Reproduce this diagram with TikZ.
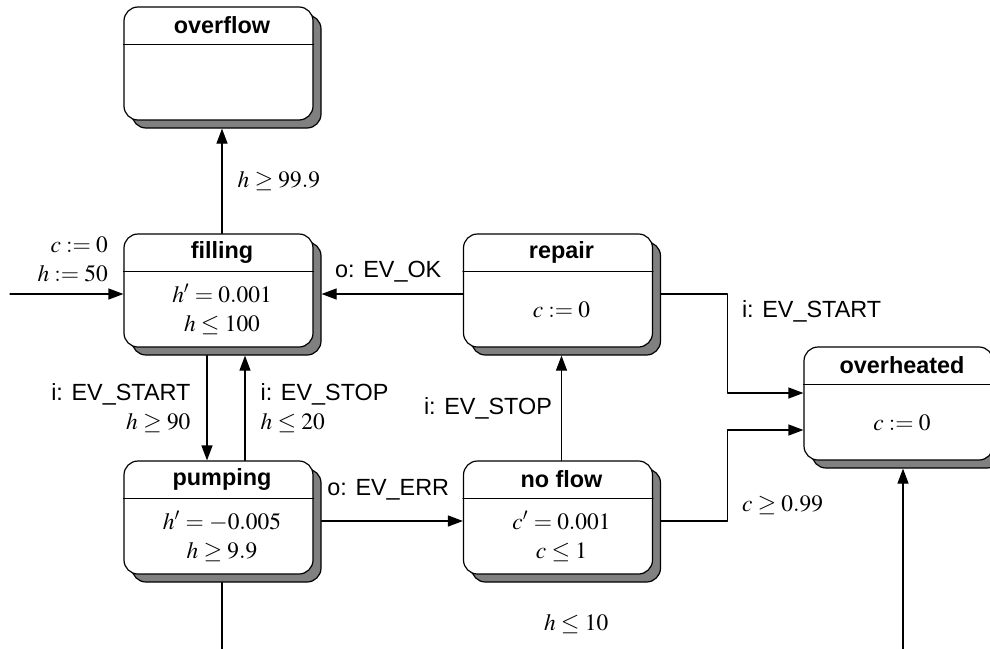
\documentclass[tikz,border=0pt]{standalone}
\usepackage{mathptmx}
\usepackage[no-math]{fontspec}
\setsansfont{Liberation Sans}
\DeclareSymbolFont{cmsymbols}{OMS}{cmsy}{m}{n}
\DeclareSymbolFont{cmrops}{OT1}{cmr}{m}{n}
\DeclareMathSymbol{\geq}{\mathrel}{cmsymbols}{"15}
\DeclareMathSymbol{\leq}{\mathrel}{cmsymbols}{"14}
\DeclareMathSymbol{-}{\mathbin}{cmsymbols}{"00}
\DeclareMathSymbol{=}{\mathrel}{cmrops}{"3D}
\DeclareMathSymbol{:}{\mathrel}{cmrops}{"3A}
\usetikzlibrary{arrows.meta,shadows}

% one location: frame, header rule, title, body
\newcommand{\locbox}[4]{%
	\node[loc] (#1) at (#2) {};
	\draw ([yshift=-19pt]#1.north west) -- ([yshift=-19pt]#1.north east);
	\node[loctitle] (#1-title) at ([xshift=1.75pt,yshift=-9.5pt]#1.north) {#3};
	\node[locbody] (#1-body) at ([xshift=1.75pt,yshift=-9.5pt]#1.center) {#4};
}

\begin{document}
\begin{tikzpicture}[x=0.5pt, y=-0.5pt, line width=0.6pt, line join=round, line cap=round,
	>={Triangle[length=7.5pt,width=5.5pt]}, font=\fontsize{11.7}{14.5}\selectfont,
	loc/.style={draw, rounded corners=7pt, minimum width=94.5pt, minimum height=56.5pt, inner sep=0pt, fill=white,
		drop shadow={shadow xshift=4pt, shadow yshift=-4pt, opacity=1, fill=gray, draw=black}},
	loctitle/.style={font=\sffamily\bfseries\fontsize{11.7}{14.5}\selectfont, inner sep=0pt},
	locbody/.style={align=center, inner sep=0pt},
	lbl/.style={font=\sffamily\fontsize{11.7}{14.5}\selectfont, inner sep=0pt}]
	\useasboundingbox (0,0) rectangle (990,648);
	\clip (0,0) rectangle (990,648);
	\locbox{overflow}{218.5,63.5}{overflow}{}
	\locbox{filling}{218.5,290.5}{filling}{$h' = 0.001$\\$h \leq 100$}
	\locbox{pumping}{218.5,517.5}{pumping}{$h' = -0.005$\\$h \geq 9.9$}
	\locbox{repair}{558,290.5}{repair}{$c := 0$}
	\locbox{noflow}{558,517.5}{no flow}{$c' = 0.001$\\$c \leq 1$}
	\locbox{overheated}{898.5,403.5}{overheated}{$c := 0$}
	\coordinate (init) at (10,294);
	\draw[->] (init) -- (init -| filling.west) node[lbl, midway, above=6pt, align=right, xshift=3pt] {$c := 0$\\$h := 50$};
	\draw[->] ([xshift=1.75pt]filling.north) -- ([xshift=1.75pt,yshift=-4pt]overflow.south) node[lbl, midway, right=7.5pt] {$h \geq 99.9$};
	\draw[->] ([xshift=-5.75pt,yshift=-4pt]filling.south) -- ([xshift=-5.75pt]pumping.north) node[lbl, midway, left=8pt, align=right] {i: EV\_START\\$h \geq 90$};
	\draw[->] ([xshift=13.25pt]pumping.north) -- ([xshift=13.25pt,yshift=-4pt]filling.south) node[lbl, midway, right=7.5pt, align=left] {i: EV\_STOP\\$h \leq 20$};
	\draw[->] ([xshift=4pt,yshift=-1.75pt]pumping.east) -- ([yshift=-1.75pt]noflow.west) node[lbl, midway, above=10pt, xshift=-2pt] {o: EV\_ERR};
	\draw[->] ([xshift=1.75pt]noflow.north) -- ([xshift=1.75pt,yshift=-4pt]repair.south) node[lbl, midway, left=4.5pt] {i: EV\_STOP};
	\draw[->] ([yshift=-1.75pt]repair.west) -- ([xshift=4pt,yshift=-1.75pt]filling.east) node[lbl, midway, above=5.5pt, xshift=-2pt] {o: EV\_OK};
	\draw[->] ([xshift=4pt,yshift=-1.75pt]repair.east) -| ([xshift=-38pt,yshift=5.25pt]overheated.west) node[lbl, pos=0.5, anchor=north west, xshift=7pt, yshift=-3pt] {i: EV\_START} -- ([yshift=5.25pt]overheated.west);
	\draw[->] ([xshift=4pt,yshift=-1.75pt]noflow.east) -| ([xshift=-38pt,yshift=-13.25pt]overheated.west) node[lbl, pos=0.5, anchor=south west, xshift=7pt, yshift=3pt] {$c \geq 0.99$} -- ([yshift=-13.25pt]overheated.west);
	\draw[->] ([xshift=1.75pt,yshift=-4pt]pumping.south) -- ++(0,74) -| ([xshift=2.25pt,yshift=-4pt]overheated.south) node[lbl, pos=0.26, above=11pt] {$h \leq 10$};
\end{tikzpicture}
\end{document}
